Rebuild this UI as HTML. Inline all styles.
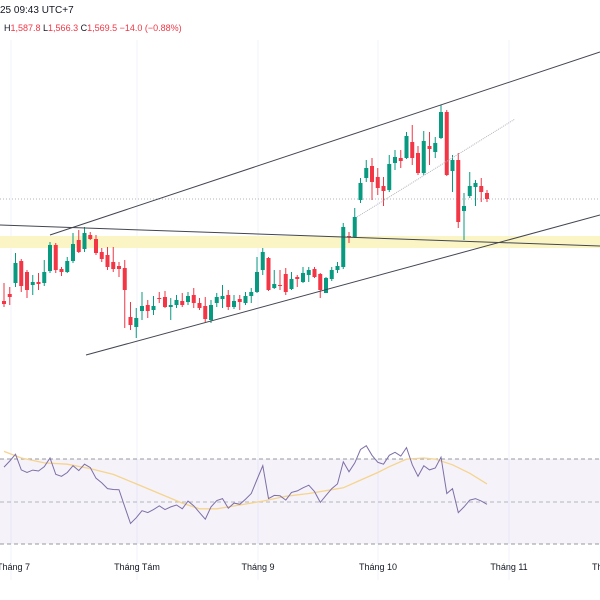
<!DOCTYPE html>
<html><head><meta charset="utf-8">
<style>
html,body{margin:0;padding:0;background:#fff;width:600px;height:600px;overflow:hidden;font-family:"Liberation Sans","Noto Sans CJK SC",sans-serif;}
svg{display:block}
</style></head>
<body>
<svg id="chart" width="600" height="600" viewBox="0 0 600 600" xmlns="http://www.w3.org/2000/svg">
  <g stroke="#f0f3fa" stroke-width="1">
    <line x1="11" y1="40" x2="11" y2="580"/>
    <line x1="137" y1="40" x2="137" y2="580"/>
    <line x1="258" y1="40" x2="258" y2="580"/>
    <line x1="378" y1="40" x2="378" y2="580"/>
    <line x1="509" y1="40" x2="509" y2="580"/>
  </g>
  <text x="0" y="13" font-size="10" fill="#131722">25 09:43 UTC+7</text>
  <text x="4" y="31" font-size="9" fill="#f23645"><tspan fill="#131722">H</tspan>1,587.8 <tspan fill="#131722">L</tspan>1,566.3 <tspan fill="#131722">C</tspan>1,569.5 −14.0 (−0.88%)</text>
  <rect x="0" y="236" width="600" height="12" fill="#fbf4c0" opacity="0.9"/>
  <line x1="0" y1="199" x2="600" y2="199" stroke="#b2b5be" stroke-width="1" stroke-dasharray="1,2"/>
  <g id="candles"></g>
  <line x1="0" y1="225" x2="600" y2="246" stroke="#434651" stroke-width="1"/>
  <line x1="50" y1="235" x2="600" y2="52" stroke="#434651" stroke-width="1"/>
  <line x1="86" y1="355" x2="600" y2="215" stroke="#434651" stroke-width="1"/>
  <line x1="357" y1="217" x2="515" y2="119" stroke="#b2b5be" stroke-width="1" stroke-dasharray="1,1"/>
  <g>
    <rect x="0" y="459" width="600" height="85" fill="#7e57c2" opacity="0.08"/>
    <line x1="0" y1="459" x2="600" y2="459" stroke="#9598a1" stroke-dasharray="4,3"/>
    <line x1="0" y1="502" x2="600" y2="502" stroke="#b2b5be" stroke-dasharray="4,3"/>
    <line x1="0" y1="544" x2="600" y2="544" stroke="#9598a1" stroke-dasharray="4,3"/>
    <path id="rsiMa" fill="none" stroke="#f5d48e" stroke-width="1.3"/>
    <path id="rsiLine" fill="none" stroke="#7e6fa6" stroke-width="1"/>
  </g>
  <g font-size="9" fill="#131722">
    <text x="-3" y="570">Tháng 7</text>
    <text x="137" y="570" text-anchor="middle">Tháng Tám</text>
    <text x="258" y="570" text-anchor="middle">Tháng 9</text>
    <text x="378" y="570" text-anchor="middle">Tháng 10</text>
    <text x="509" y="570" text-anchor="middle">Tháng 11</text>
    <text x="592" y="570">Th</text>
  </g>
</svg>
<script>
const opens=[1366,1380,1402,1446,1424,1398,1404,1402,1426,1478,1430,1424,1446,1488,1470,1498,1490,1464,1458,1444,1436,1432,1334,1314,1346,1358,1348,1372,1374,1354,1358,1366,1364,1378,1362,1356,1328,1362,1370,1378,1354,1370,1362,1376,1384,1428,1452,1392,1398,1420,1390,1414,1404,1418,1430,1420,1382,1410,1428,1434,1496,1494,1568,1612,1636,1614,1596,1588,1642,1652,1652,1684,1662,1622,1676,1664,1692,1744,1626,1648,1546,1576,1594,1596,1582];
const highs=[1402,1394,1462,1450,1428,1418,1422,1448,1484,1482,1434,1454,1502,1508,1514,1504,1498,1472,1474,1474,1444,1448,1364,1352,1384,1368,1376,1384,1386,1372,1378,1382,1384,1392,1372,1374,1368,1382,1398,1388,1378,1378,1384,1392,1454,1472,1454,1428,1428,1432,1424,1418,1434,1434,1434,1422,1414,1434,1444,1522,1504,1552,1612,1648,1652,1632,1614,1658,1668,1668,1704,1718,1676,1706,1704,1694,1758,1748,1658,1662,1582,1624,1608,1612,1588];
const lows=[1354,1358,1394,1384,1372,1378,1388,1396,1422,1422,1416,1422,1442,1462,1464,1488,1458,1444,1428,1424,1414,1312,1308,1292,1328,1332,1338,1362,1352,1328,1352,1354,1358,1352,1348,1324,1322,1354,1352,1348,1350,1348,1358,1362,1382,1418,1386,1390,1388,1378,1388,1394,1402,1404,1412,1372,1382,1406,1422,1430,1482,1492,1562,1604,1568,1578,1556,1584,1628,1632,1650,1638,1618,1618,1638,1652,1690,1616,1584,1512,1488,1572,1556,1564,1564];
const closes=[1360,1374,1442,1396,1388,1404,1400,1424,1478,1428,1424,1446,1480,1464,1502,1490,1462,1450,1434,1430,1430,1388,1318,1332,1356,1346,1356,1370,1354,1358,1368,1358,1376,1362,1352,1330,1358,1374,1376,1354,1366,1364,1376,1384,1424,1464,1388,1400,1396,1384,1410,1410,1422,1428,1414,1388,1412,1428,1436,1514,1494,1534,1602,1632,1604,1592,1586,1640,1654,1646,1696,1652,1622,1686,1670,1682,1744,1618,1648,1524,1556,1596,1602,1584,1570];
const rsiValues=[66.4,69.3,72.5,65.1,63.9,65,64.6,66.6,70.7,63,62.1,63.9,67.1,64.8,67.8,66.2,61.2,59,56.3,55.9,55.8,47.7,39.9,42.6,45.9,45,46.4,48.2,46.4,47.7,48.6,46.8,50.4,48.2,45,41.9,47.7,50.7,51.6,47.1,49.5,48.9,51.3,54,60.6,67.1,51.6,53.1,52.9,50.9,54.5,55.2,56.7,57.9,54.9,49.8,53.1,56.3,58.5,68.9,64.2,68.4,74.7,76.5,72,68.7,67.8,72,73.4,71.6,75.6,67.5,62.1,67.1,65.1,66,71.1,54,56.3,45,47.7,50.9,51.6,50.4,48.9];
const maIndex=[0,3,7,11,15,19,23,27,31,34,37,41,45,49,53,57,59,62,65,67,70,73,75,78,81,84];
const maValues=[73.8,70.7,68.4,67.8,65.7,63,58.5,54,49.5,46.8,46.8,48.6,50.4,52.7,54,55.8,56.7,60.3,63.9,66.6,70.2,70.7,70.2,67.5,63.5,58.5];

const NS="http://www.w3.org/2000/svg";
function xOf(i){return 4+i*5.75;}
function yPrice(p){return (1968-p)/2;}
function yRsi(r){return 502-(r-50)*2.125;}

const g=document.getElementById('candles');
for(let i=0;i<opens.length;i++){
  const up=closes[i]>=opens[i];
  const col=up?'#089981':'#f23645';
  const x=xOf(i);
  const wick=document.createElementNS(NS,'line');
  
  
  wick.setAttribute('x1',x);wick.setAttribute('x2',x);
  wick.setAttribute('y1',yPrice(highs[i]));wick.setAttribute('y2',yPrice(lows[i]));
  wick.setAttribute('stroke',col);wick.setAttribute('stroke-width','1');
  g.appendChild(wick);
  const top=yPrice(Math.max(opens[i],closes[i]));
  const bot=yPrice(Math.min(opens[i],closes[i]));
  const body=document.createElementNS(NS,'rect');
  
  
  body.setAttribute('x',x-2);body.setAttribute('width',4);
  body.setAttribute('y',top);body.setAttribute('height',Math.max(1,bot-top));
  body.setAttribute('fill',col);
  g.appendChild(body);
}
let d='';
rsiValues.forEach((v,i)=>{d+=(i?'L':'M')+xOf(i).toFixed(1)+','+yRsi(v).toFixed(1);});
document.getElementById('rsiLine').setAttribute('d',d);
let m='';
maIndex.forEach((idx,k)=>{m+=(k?'L':'M')+xOf(idx).toFixed(1)+','+yRsi(maValues[k]).toFixed(1);});
document.getElementById('rsiMa').setAttribute('d',m);
</script>
</body></html>
